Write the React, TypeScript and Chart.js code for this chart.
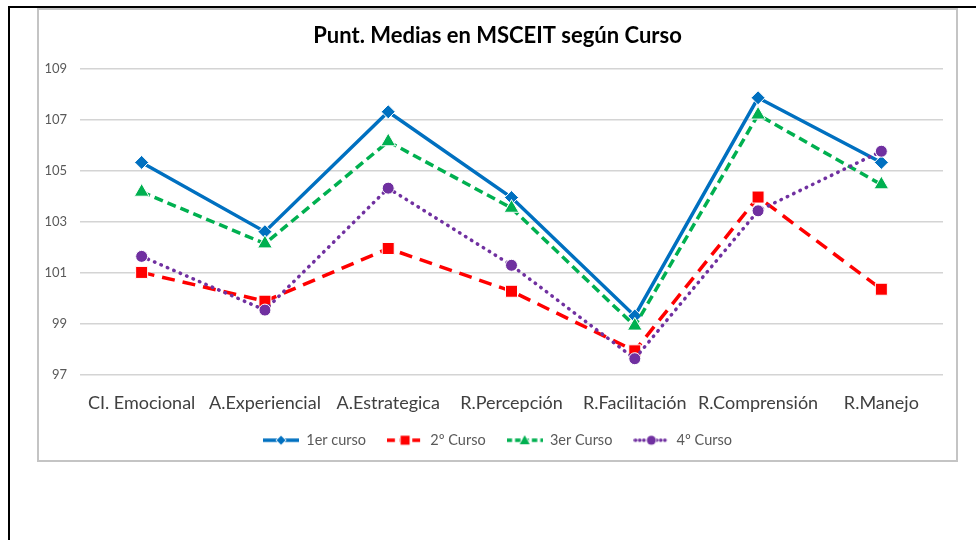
import { useEffect, useRef } from "react";
import { Chart, registerables } from "chart.js";

Chart.register(...registerables);

const categories = [
  "CI. Emocional",
  "A.Experiencial",
  "A.Estrategica",
  "R.Percepción",
  "R.Facilitación",
  "R.Comprensión",
  "R.Manejo",
];
const seriesNames = ["1er curso", "2º Curso", "3er Curso", "4º Curso"];
const curso1 = [105.33, 102.61, 107.32, 103.95, 99.3, 107.87, 105.33];
const curso2 = [101.01, 99.88, 101.95, 100.27, 97.93, 103.97, 100.35];
const curso3 = [104.17, 102.14, 106.15, 103.54, 98.91, 107.2, 104.46];
const curso4 = [101.64, 99.53, 104.32, 101.29, 97.62, 103.43, 105.77];
const yMin = 97;
const yMax = 109;
const yStep = 2;
const titleText = "Punt. Medias en MSCEIT según Curso";

const FONT = "Lato, 'Open Sans', sans-serif";

type Style = {
  color: string;
  dash: number[];
  cap: CanvasLineCap;
  marker: "rectRot" | "rect" | "triangle" | "circle";
  radius: number;
};

const styles: Style[] = [
  { color: "#0070C0", dash: [], cap: "butt", marker: "rectRot", radius: 7 },
  { color: "#FF0000", dash: [13, 8], cap: "butt", marker: "rect", radius: 8.5 },
  { color: "#00B050", dash: [9, 5], cap: "butt", marker: "triangle", radius: 8.5 },
  { color: "#7030A0", dash: [0.5, 6.5], cap: "round", marker: "circle", radius: 6 },
];

function legendImage(s: Style): HTMLCanvasElement {
  const c = document.createElement("canvas");
  c.width = 36;
  c.height = 14;
  const ctx = c.getContext("2d")!;
  ctx.strokeStyle = s.color;
  ctx.lineWidth = 3.5;
  ctx.lineCap = s.cap;
  ctx.setLineDash(s.dash.map((d) => d * 0.6));
  ctx.beginPath();
  ctx.moveTo(s.cap === "round" ? 2 : 0, 7);
  ctx.lineTo(s.cap === "round" ? 34 : 36, 7);
  ctx.stroke();
  ctx.setLineDash([]);
  ctx.fillStyle = s.color;
  ctx.strokeStyle = "#ffffff";
  ctx.lineWidth = 1.5;
  const x = 18;
  const y = 7;
  ctx.beginPath();
  if (s.marker === "rectRot") {
    ctx.moveTo(x, y - 4.5);
    ctx.lineTo(x + 4.5, y);
    ctx.lineTo(x, y + 4.5);
    ctx.lineTo(x - 4.5, y);
    ctx.closePath();
  } else if (s.marker === "rect") {
    ctx.rect(x - 4.5, y - 4.5, 9, 9);
  } else if (s.marker === "triangle") {
    ctx.moveTo(x, y - 5);
    ctx.lineTo(x + 5, y + 4);
    ctx.lineTo(x - 5, y + 4);
    ctx.closePath();
  } else {
    ctx.arc(x, y, 4.5, 0, Math.PI * 2);
  }
  ctx.stroke();
  ctx.fill();
  return c;
}

export default function App() {
  const ref = useRef<HTMLCanvasElement | null>(null);

  useEffect(() => {
    if (!ref.current) return;
    const values = [curso1, curso2, curso3, curso4];
    const images = styles.map(legendImage);
    const chart = new Chart(ref.current, {
      type: "line",
      data: {
        labels: categories,
        datasets: values.map((v, i) => ({
          label: seriesNames[i],
          data: v,
          xAxisID: "x",
          yAxisID: "y",
          order: 3 - i,
          borderColor: styles[i].color,
          backgroundColor: styles[i].color,
          borderWidth: 3.5,
          borderDash: styles[i].dash,
          borderCapStyle: styles[i].cap,
          tension: 0,
          fill: false,
          pointStyle: styles[i].marker,
          pointRadius: styles[i].radius,
          pointHoverRadius: styles[i].radius,
          pointBackgroundColor: styles[i].color,
          pointBorderColor: "#ffffff",
          pointBorderWidth: 1,
        })),
      },
      options: {
        responsive: false,
        animation: false,
        layout: { padding: { left: 0, right: 0, top: 0, bottom: 2.5 } },
        plugins: {
          tooltip: { enabled: false },
          title: {
            display: true,
            text: titleText,
            color: "#000000",
            font: { family: FONT, size: 22, weight: "bold", lineHeight: 1.2 },
            padding: { top: 12.8, bottom: 19.8 },
          },
          legend: {
            position: "bottom",
            labels: {
              usePointStyle: true,
              pointStyleWidth: 36,
              padding: 21,
              color: "#595959",
              font: { family: FONT, size: 14.5 },
              generateLabels: () =>
                seriesNames.map((name, i) => ({
                  text: name,
                  fillStyle: styles[i].color,
                  strokeStyle: styles[i].color,
                  lineWidth: 0,
                  hidden: false,
                  pointStyle: images[i],
                  datasetIndex: i,
                  fontColor: "#595959",
                })),
            },
          },
        },
        scales: {
          x: {
            offset: true,
            grid: { display: false, drawTicks: false, offset: true },
            border: { display: false },
            ticks: {
              color: "#404040",
              padding: 18,
              font: { family: FONT, size: 18 },
              maxRotation: 0,
              autoSkip: false,
            },
            afterFit: (scale: any) => {
              scale.height = 37.5;
            },
          },
          y: {
            position: "left",
            min: yMin,
            max: yMax,
            grid: { color: "#d4d4d4", lineWidth: 1.5, drawTicks: false },
            border: { display: false },
            ticks: {
              stepSize: yStep,
              color: "#595959",
              padding: 13,
              font: { family: FONT, size: 13 },
            },
            afterFit: (scale: any) => {
              scale.width = 41;
            },
          },
          yRight: {
            position: "right",
            axis: "y",
            min: yMin,
            max: yMax,
            grid: { display: false, drawTicks: false },
            border: { display: false },
            ticks: { display: false },
            afterFit: (scale: any) => {
              scale.width = 13;
            },
          },
        },
      },
    });
    return () => chart.destroy();
  }, []);

  return (
    <div>
      <div
        style={{
          position: "absolute",
          left: 8,
          top: 6,
          width: 968,
          height: 534,
          borderLeft: "2px solid #000",
          borderTop: "2px solid #000",
          boxSizing: "border-box",
        }}
      />
      <div
        style={{
          position: "absolute",
          left: 37,
          top: 8,
          width: 921,
          height: 454,
          border: "2px solid #c4c4c4",
          boxSizing: "border-box",
          background: "#ffffff",
        }}
      >
        <canvas ref={ref} width={917} height={450} style={{ display: "block" }} />
      </div>
    </div>
  );
}
